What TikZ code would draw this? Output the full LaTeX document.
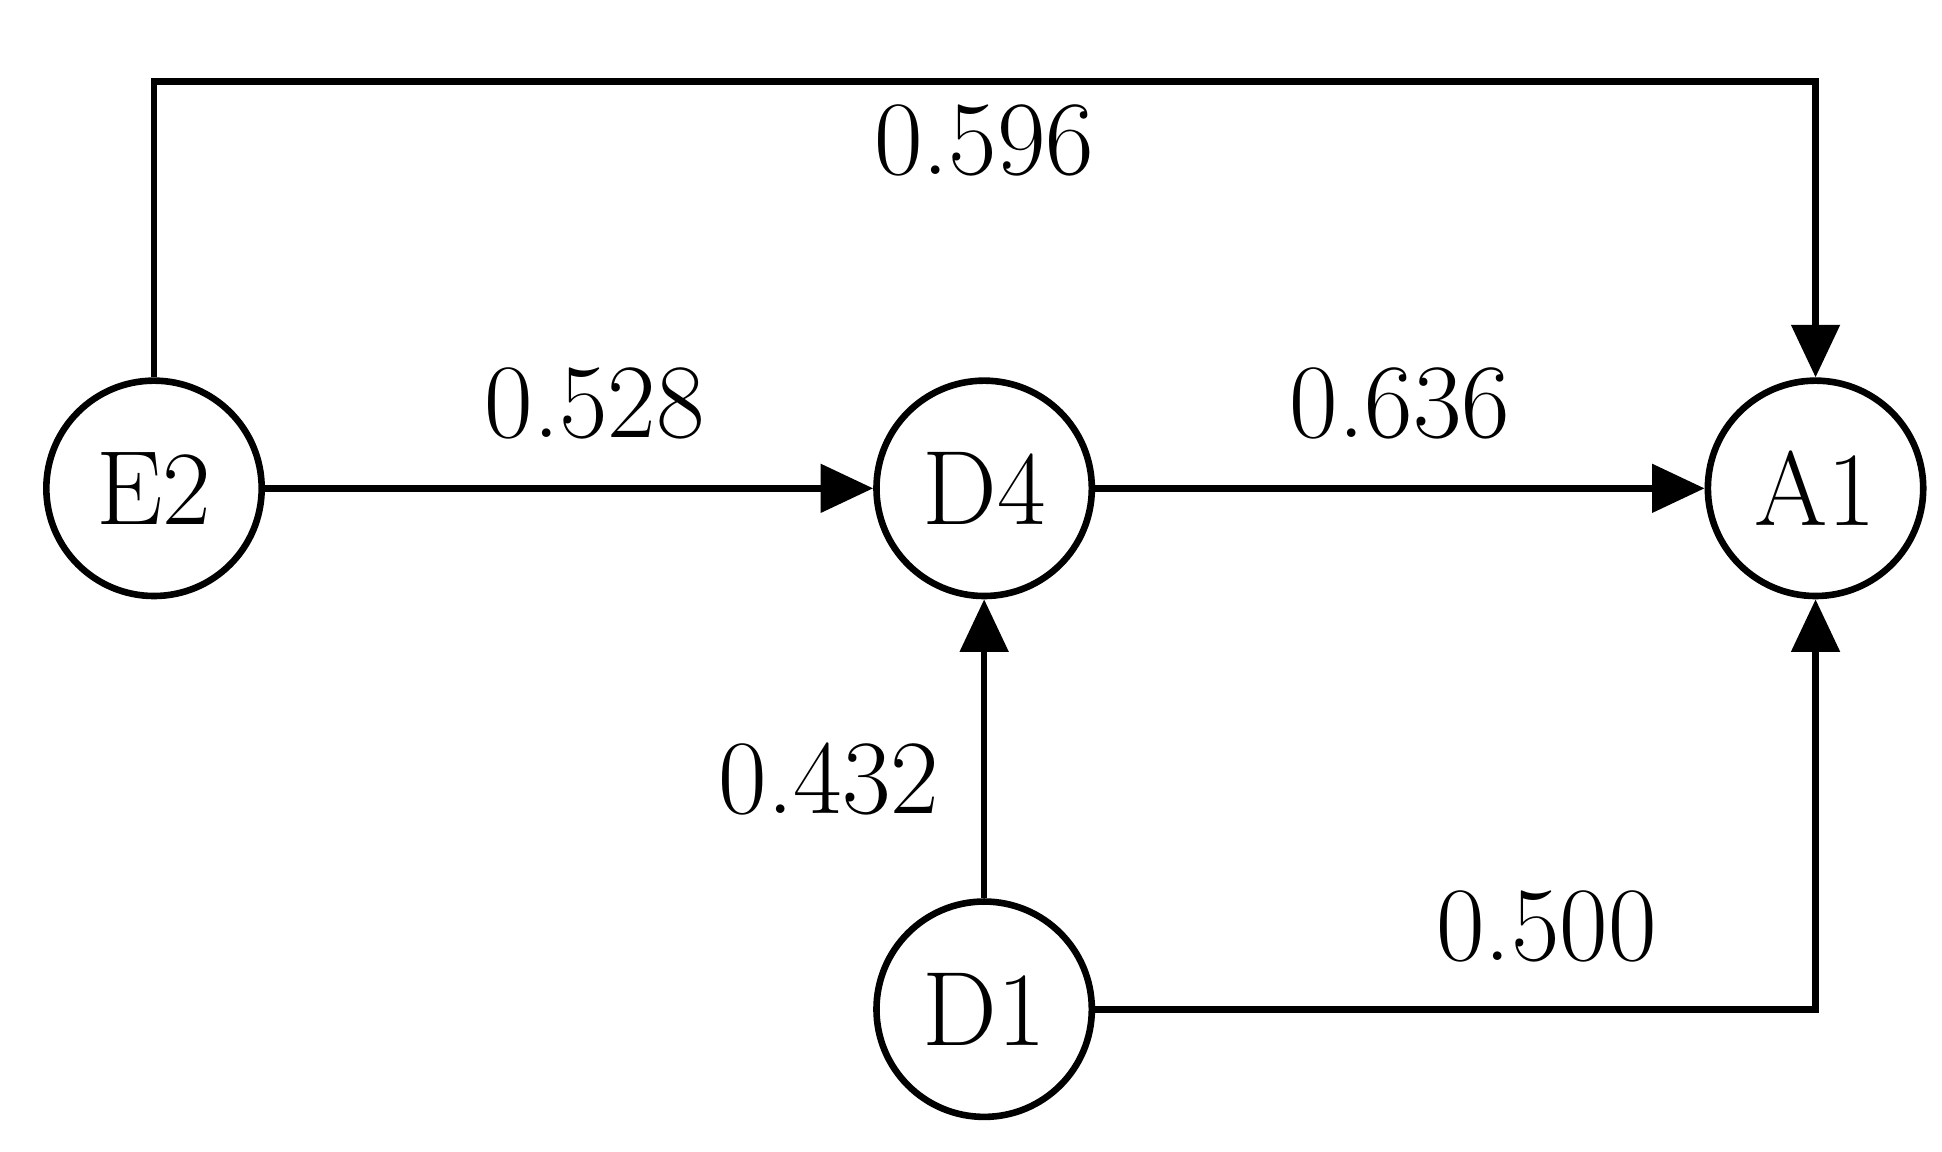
\documentclass[tikz,border=0pt]{standalone}
\usetikzlibrary{arrows.meta}
\begin{document}
\begin{tikzpicture}[x=1cm,y=1cm,
  vnode/.style={circle,draw,line width=1.5pt,minimum size=1.72cm,inner sep=0pt,font=\fontsize{24}{28}\selectfont},
  edge/.style={line width=1.5pt,-{Triangle[length=0.42cm,width=0.38cm]}},
  lab/.style={font=\fontsize{24}{28}\selectfont}]
\useasboundingbox (0,0) rectangle (15.51,-9.20);
\node[vnode] (E2) at (1.23,-3.90) {E2};
\node[vnode] (D4) at (7.86,-3.90) {D4};
\node[vnode] (A1) at (14.50,-3.90) {A1};
\node[vnode] (D1) at (7.86,-8.06) {D1};
\coordinate (tl) at (1.23,-0.65);
\coordinate (tr) at (14.50,-0.65);
\coordinate (br) at (14.50,-8.06);
\draw[edge] (E2.north) -- (tl) -- (tr) -- (A1.north);
\draw[edge] (E2) -- (D4);
\draw[edge] (D4) -- (A1);
\draw[edge] (D1) -- (D4);
\draw[edge] (D1.east) -- (br) -- (A1.south);
\node[lab] (l1) at (7.86,-1.12) {0.596};
\node[lab] (l2) at (4.75,-3.22) {0.528};
\node[lab] (l3) at (11.18,-3.22) {0.636};
\node[lab] (l4) at (6.62,-6.22) {0.432};
\node[lab] (l5) at (12.35,-7.40) {0.500};
\end{tikzpicture}
\end{document}
